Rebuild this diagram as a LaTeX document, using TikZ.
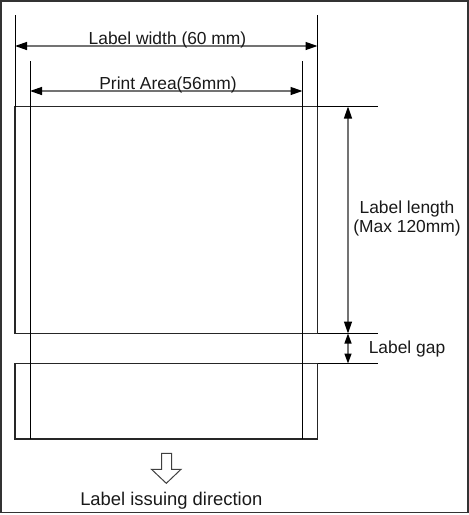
\documentclass[tikz,border=0pt]{standalone}
\usepackage{fontspec}
\setmainfont{Liberation Sans}
\usetikzlibrary{arrows.meta}
\begin{document}
\begin{tikzpicture}[x=1pt,y=-1pt,
  frame/.style={line width=1.6pt, draw=black!80},
  boxline/.style={line width=1.4pt, draw=black!85},
  ext/.style={line width=1pt, draw=black},
  dim/.style={line width=1.3pt, draw=black!55, {Triangle[length=12pt,width=8pt,color=black,fill=black]}-{Triangle[length=12pt,width=8pt,color=black,fill=black]}},
  gapdim/.style={line width=1.3pt, draw=black!55, {Triangle[length=10pt,width=7pt,color=black,fill=black]}-{Triangle[length=10pt,width=7pt,color=black,fill=black]}},
  lbl/.style={font=\fontsize{17.4}{19}\selectfont, inner sep=0pt, text=black!90},
  hollow/.style={line width=1pt, draw=black!75, fill=white}]
\useasboundingbox (0,0) rectangle (469,515);
% frame
\draw[frame] (1,1) rectangle (468,512.5);
% coordinates
\coordinate (LTL) at (15,106.5);
\coordinate (LTR) at (317.5,106.5);
\coordinate (LBL) at (15,333.5);
\coordinate (LBR) at (317.5,333.5);
\coordinate (NTL) at (15,363.5);
\coordinate (NTR) at (317.5,363.5);
\coordinate (NBL) at (15,439);
\coordinate (NBR) at (317.5,439);
\coordinate (ELt) at (15,15);
\coordinate (ERt) at (317.5,15);
\coordinate (PLt) at (30,61);
\coordinate (PLb) at (30,439);
\coordinate (PRt) at (302.5,61);
\coordinate (PRb) at (302.5,439);
\coordinate (HT) at (378,106.5);
\coordinate (HB) at (378,333.5);
\coordinate (HG) at (378,363.5);
\coordinate (WA) at (15,46);
\coordinate (WB) at (317.5,46);
\coordinate (PA) at (30,91);
\coordinate (PB) at (302.5,91);
\coordinate (VA) at (348,106.5);
\coordinate (VB) at (348,333.5);
\coordinate (VC) at (348,363.5);
% label boxes
\draw[boxline] (LTL) rectangle (LBR);
\draw[boxline] (NTL) rectangle (NBR);
% extension lines
\draw[ext] (ELt) -- (LTL);
\draw[ext] (ERt) -- (LTR);
\draw[ext] (PLt) -- (PLb);
\draw[ext] (PRt) -- (PRb);
\draw[ext] (LTR) -- (HT);
\draw[ext] (LBR) -- (HB);
\draw[ext] (NTR) -- (HG);
% dimensions
\draw[dim] (WA) -- (WB);
\draw[dim] (PA) -- (PB);
\draw[dim] (VA) -- (VB);
\draw[gapdim] (VB) -- (VC);
% texts
\node[lbl, anchor=base] (tw) at (167.5,44) {Label width (60 mm)};
\node[lbl, anchor=base] (tp) at (168,89) {Print Area(56mm)};
\node[lbl, align=center, anchor=base] (tl) at (407,232.5) {Label length\\(Max 120mm)};
\node[lbl, anchor=base] (tg) at (407,353.5) {Label gap};
% issuing direction arrow
\draw[hollow] (161.7,453.3) -- (171.7,453.3) -- (171.7,469.3) -- (181,469.3) -- (166.3,483.3) -- (151.5,469.3) -- (161.7,469.3) -- cycle;
\node[lbl, font=\fontsize{18.4}{20}\selectfont, anchor=base] (ti) at (171.3,505.5) {Label issuing direction};
\end{tikzpicture}
\end{document}
